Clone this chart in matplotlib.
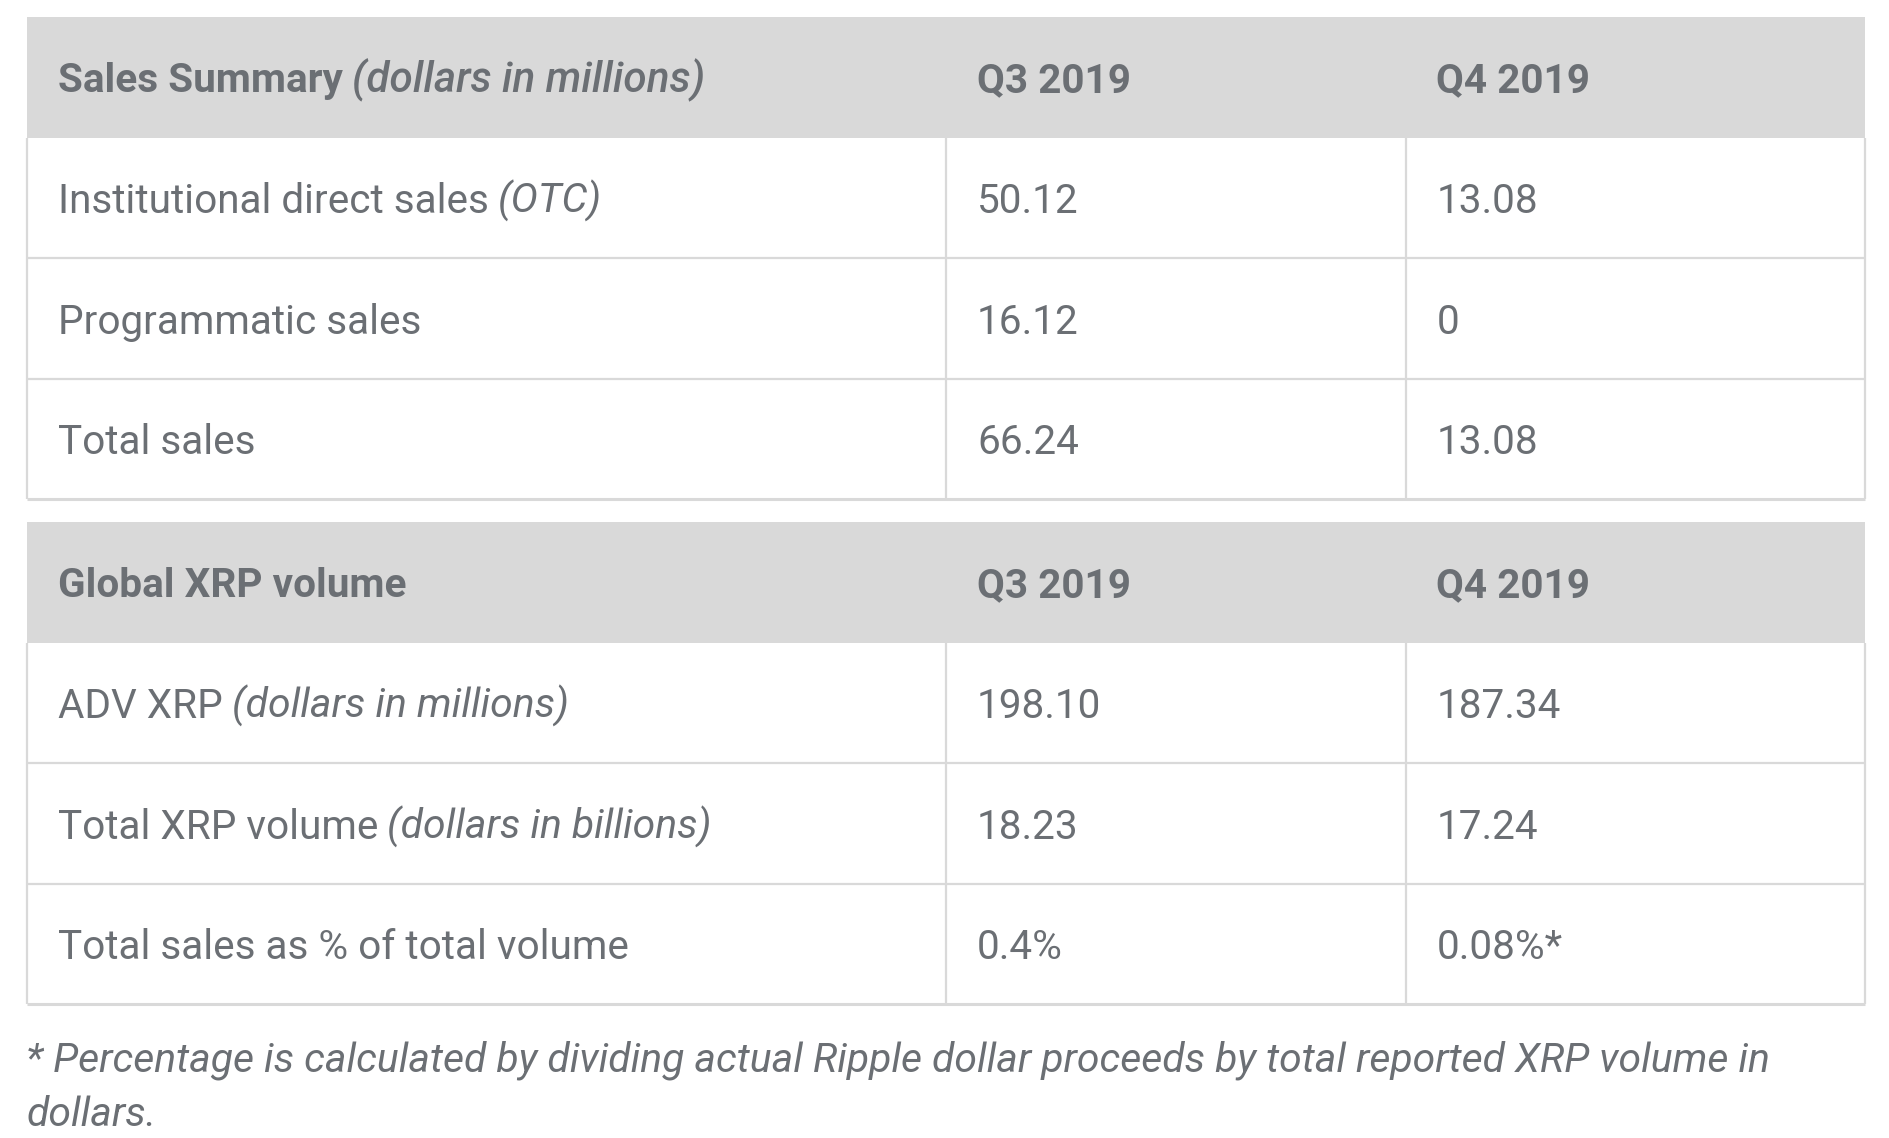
import matplotlib
matplotlib.use("Agg")
import matplotlib.pyplot as plt
from matplotlib.patches import Rectangle

# ---- data ----
columns = ["Q3 2019", "Q4 2019"]
sales_title = "Sales Summary"
sales_note = "(dollars in millions)"
sales_labels = ["Institutional direct sales", "Programmatic sales", "Total sales"]
sales_label_notes = ["(OTC)", "", ""]
sales_q3 = ["50.12", "16.12", "66.24"]
sales_q4 = ["13.08", "0", "13.08"]

volume_title = "Global XRP volume"
volume_note = ""
volume_labels = ["ADV XRP", "Total XRP volume", "Total sales as % of total volume"]
volume_label_notes = ["(dollars in millions)", "(dollars in billions)", ""]
volume_q3 = ["198.10", "18.23", "0.4%"]
volume_q4 = ["187.34", "17.24", "0.08%*"]

footnote = ["* Percentage is calculated by dividing actual Ripple dollar proceeds by total reported XRP volume in",
            "dollars."]

# ---- style ----
W, H = 1890, 1138
TXT = "#6b6f74"
HDR = "#d9d9d9"
LINE = "#d9d9d9"
FS = 29.2
FS_IT = 29.4
FONT = "Roboto"

fig = plt.figure(figsize=(W / 100, H / 100), dpi=100)
ax = fig.add_axes([0, 0, 1, 1])
ax.set_xlim(0, W)
ax.set_ylim(H, 0)
ax.axis("off")

x_left, x_right = 26.5, 1865
col_x = [946, 1405.5]
text_x = [58, 977, 1436.5]
row_h = 120.6
BASE_OFF = 15

pending = []


def two_part(x, y, main, note, weight, note_weight, note_fs):
    t = ax.text(x, y, main, ha="left", va="baseline", fontsize=FS, family=FONT,
                weight=weight, color=TXT)
    if note:
        pending.append((t, y, note, note_weight, note_fs))


def section(top, title, note, labels, label_notes, q3, q4):
    ax.add_patch(Rectangle((x_left, top), x_right - x_left, row_h, facecolor=HDR, edgecolor="none"))
    base = top + row_h / 2 + BASE_OFF
    two_part(text_x[0], base, title, note, "bold", "medium", 30.4)
    for cx, c in zip(text_x[1:], columns):
        ax.text(cx, base, c, ha="left", va="baseline", fontsize=FS, family=FONT,
                weight="bold", color=TXT)
    body_top = top + row_h
    n = len(labels)
    body_bot = body_top + n * row_h
    for i in range(n):
        yb = body_top + i * row_h + row_h / 2 + BASE_OFF
        two_part(text_x[0], yb, labels[i], label_notes[i], "normal", "normal", FS_IT)
        ax.text(text_x[1], yb, q3[i], ha="left", va="baseline", fontsize=FS, family=FONT, color=TXT)
        ax.text(text_x[2], yb, q4[i], ha="left", va="baseline", fontsize=FS, family=FONT, color=TXT)
        if i > 0:
            yl = body_top + i * row_h
            ax.plot([x_left, x_right], [yl, yl], color=LINE, lw=1.6, solid_capstyle="butt")
    ax.plot([x_left, x_right], [body_bot, body_bot], color=LINE, lw=2.2, solid_capstyle="butt")
    for xx in [x_left, x_right]:
        ax.plot([xx, xx], [body_top, body_bot], color=LINE, lw=1.6, solid_capstyle="butt")
    for xx in col_x:
        ax.plot([xx, xx], [body_top, body_bot], color=LINE, lw=1.6, solid_capstyle="butt")


section(17, sales_title, sales_note, sales_labels, sales_label_notes, sales_q3, sales_q4)
section(522, volume_title, volume_note, volume_labels, volume_label_notes, volume_q3, volume_q4)

fig.canvas.draw()
renderer = fig.canvas.get_renderer()
inv = ax.transData.inverted()
for t, y, note, nw, nfs in pending:
    bb = t.get_window_extent(renderer)
    xend = inv.transform((bb.x1, bb.y0))[0]
    ax.text(xend + 9, y, note, ha="left", va="baseline", fontsize=nfs, family=FONT,
            style="italic", weight=nw, color=TXT)

for i, line in enumerate(footnote):
    ax.text(26.5, 1071 + i * 55, line, ha="left", va="baseline", fontsize=FS_IT, family=FONT,
            style="italic", color=TXT)

fig.savefig("out.png", dpi=100, facecolor="white")
